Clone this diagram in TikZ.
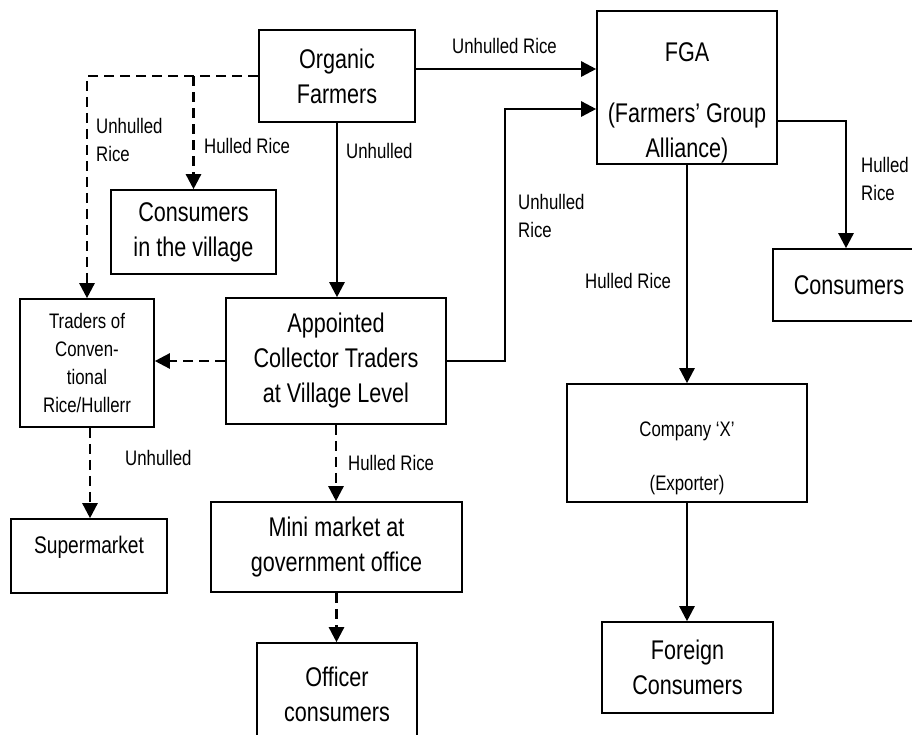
\documentclass[tikz,border=0pt]{standalone}
\usepackage{fontspec}
\setmainfont{Liberation Sans}[FakeStretch=0.8]
\usetikzlibrary{arrows.meta}
\tikzset{
  stage/.style={draw, line width=1.6pt, inner sep=0pt, align=center, font=\fontsize{27}{35}\selectfont},
  lbl/.style={anchor=west, align=left, inner sep=0pt, font=\fontsize{21}{28}\selectfont},
  flow/.style={line width=2.5pt, -{Triangle[width=15pt,length=15pt]}},
  dflow/.style={flow, dash pattern=on 10pt off 6pt}
}
\begin{document}
\begin{tikzpicture}[x=1pt,y=-1pt]
\useasboundingbox (0,0) rectangle (912,734);
\clip (0,0) rectangle (912,734);
\node[stage, minimum width=156pt, minimum height=92pt] (org) at (337,76) {Organic\\Farmers};
\node[stage, minimum width=165pt, minimum height=84pt] (vil) at (193.5,232) {Consumers\\in the village};
\node[stage, minimum width=134pt, minimum height=128pt, font=\fontsize{21}{28}\selectfont] (trd) at (87,363) {Traders of\\Conven-\\tional\\Rice/Hullerr};
\node[stage, minimum width=220pt, minimum height=126pt] (col) at (336,361) {Appointed\\Collector Traders\\at Village Level};
\node[stage, minimum width=156pt, minimum height=74pt, font=\fontsize{24}{30}\selectfont, text depth=22pt] (sup) at (89,556) {Supermarket};
\node[stage, minimum width=251pt, minimum height=90pt] (mini) at (336.5,547) {Mini market at\\government office};
\node[stage, minimum width=160pt, minimum height=102pt] (off) at (337,694) {Officer\\consumers};
\node[stage, minimum width=180pt, minimum height=153pt] (fga) at (687,87.5) {};
\node[align=center, inner sep=0pt, font=\fontsize{27}{35}\selectfont] (fgatxt) at (687,103) {FGA\\[26pt](Farmers’ Group\\Alliance)};
\node[stage, minimum width=152pt, minimum height=72pt] (con) at (849,285) {Consumers};
\node[stage, minimum width=240pt, minimum height=118pt] (com) at (687,443) {};
\node[align=center, inner sep=0pt, font=\fontsize{21}{28}\selectfont] (comtxt) at (687,458) {Company ‘X’\\[26pt](Exporter)};
\node[stage, minimum width=171pt, minimum height=91pt] (frn) at (687.5,667.5) {Foreign\\Consumers};
\draw[dflow] (org.west) -| (trd.north);
\draw[dflow] (org.west -| vil.north) -- (vil.north);
\draw[flow] (org.south) -- (org.south |- col.north);
\draw[flow] ([yshift=7pt]org.east) coordinate (oe) -- (oe -| fga.west);
\draw[flow] (col.east) -- ++(58,0) |- ([yshift=-21.5pt]fga.west);
\draw[flow] ([yshift=-33.5pt]fga.east) -| ([xshift=-3pt]con.north);
\draw[flow] (fga.south) -- (com.north);
\draw[flow] (com.south) -- (com.south |- frn.north);
\draw[dflow] (col.west) -- (col.west -| trd.east);
\draw[dflow] ([xshift=3pt]trd.south) -- ([xshift=3pt]trd.south |- sup.north);
\draw[dflow] (col.south) -- (col.south |- mini.north);
\draw[dflow] (mini.south) -- (mini.south |- off.north);
\node[lbl] (l1) at (96,140) {Unhulled\\Rice};
\node[lbl] (l2) at (204,146) {Hulled Rice};
\node[lbl] (l3) at (346,151) {Unhulled};
\node[lbl] (l4) at (452,46) {Unhulled Rice};
\node[lbl] (l5) at (518,216) {Unhulled\\Rice};
\node[lbl] (l6) at (585,281) {Hulled Rice};
\node[lbl] (l7) at (861,179) {Hulled\\Rice};
\node[lbl] (l8) at (125,458) {Unhulled};
\node[lbl] (l9) at (348,463) {Hulled Rice};
\end{tikzpicture}
\end{document}
